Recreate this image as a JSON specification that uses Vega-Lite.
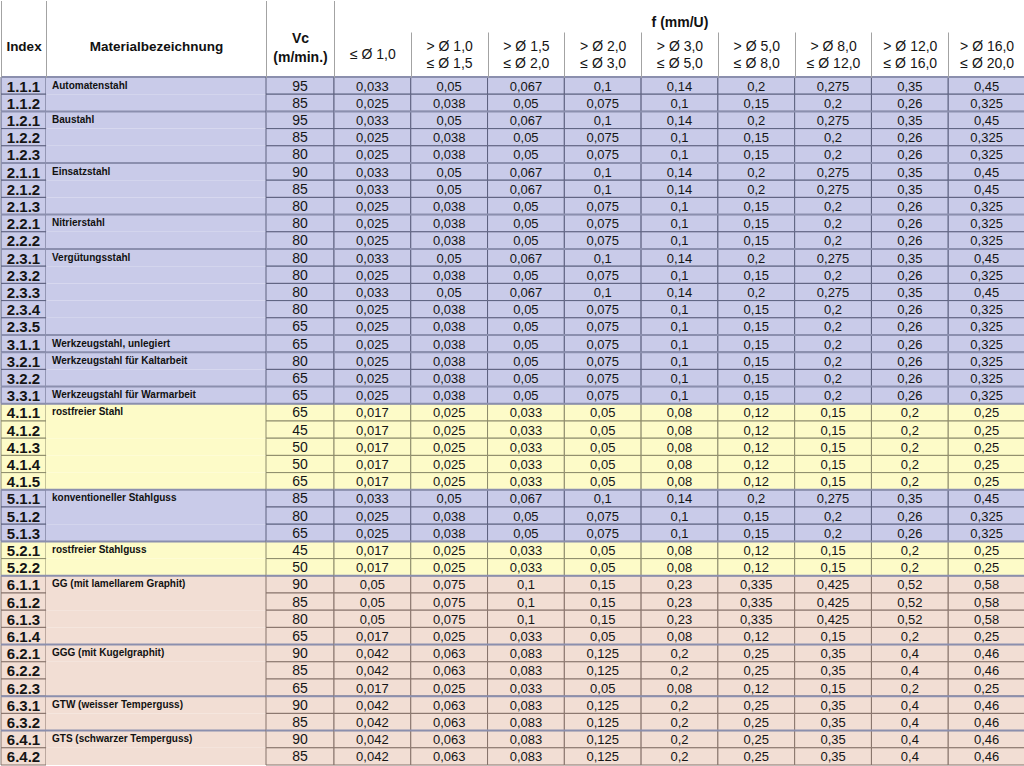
{
  "$schema": "https://vega.github.io/schema/vega-lite/v6.json",
  "padding": 0,
  "spacing": 0,
  "bounds": "flush",
  "background": "white",
  "config": {
    "view": {"stroke": null},
    "locale": {"number": {"decimal": ",", "thousands": ".", "grouping": [3], "currency": ["", " €"]}},
    "font": "Liberation Sans"
  },
  "datasets": {
    "tabelle": [
      {"idx": "1.1.1", "werkstoff": "Automatenstahl", "iso": "P", "vc": 95, "d1": 0.033, "d2": 0.05, "d3": 0.067, "d4": 0.1, "d5": 0.14, "d6": 0.2, "d7": 0.275, "d8": 0.35, "d9": 0.45},
      {"idx": "1.1.2", "werkstoff": "", "iso": "P", "vc": 85, "d1": 0.025, "d2": 0.038, "d3": 0.05, "d4": 0.075, "d5": 0.1, "d6": 0.15, "d7": 0.2, "d8": 0.26, "d9": 0.325},
      {"idx": "1.2.1", "werkstoff": "Baustahl", "iso": "P", "vc": 95, "d1": 0.033, "d2": 0.05, "d3": 0.067, "d4": 0.1, "d5": 0.14, "d6": 0.2, "d7": 0.275, "d8": 0.35, "d9": 0.45},
      {"idx": "1.2.2", "werkstoff": "", "iso": "P", "vc": 85, "d1": 0.025, "d2": 0.038, "d3": 0.05, "d4": 0.075, "d5": 0.1, "d6": 0.15, "d7": 0.2, "d8": 0.26, "d9": 0.325},
      {"idx": "1.2.3", "werkstoff": "", "iso": "P", "vc": 80, "d1": 0.025, "d2": 0.038, "d3": 0.05, "d4": 0.075, "d5": 0.1, "d6": 0.15, "d7": 0.2, "d8": 0.26, "d9": 0.325},
      {"idx": "2.1.1", "werkstoff": "Einsatzstahl", "iso": "P", "vc": 90, "d1": 0.033, "d2": 0.05, "d3": 0.067, "d4": 0.1, "d5": 0.14, "d6": 0.2, "d7": 0.275, "d8": 0.35, "d9": 0.45},
      {"idx": "2.1.2", "werkstoff": "", "iso": "P", "vc": 85, "d1": 0.033, "d2": 0.05, "d3": 0.067, "d4": 0.1, "d5": 0.14, "d6": 0.2, "d7": 0.275, "d8": 0.35, "d9": 0.45},
      {"idx": "2.1.3", "werkstoff": "", "iso": "P", "vc": 80, "d1": 0.025, "d2": 0.038, "d3": 0.05, "d4": 0.075, "d5": 0.1, "d6": 0.15, "d7": 0.2, "d8": 0.26, "d9": 0.325},
      {"idx": "2.2.1", "werkstoff": "Nitrierstahl", "iso": "P", "vc": 80, "d1": 0.025, "d2": 0.038, "d3": 0.05, "d4": 0.075, "d5": 0.1, "d6": 0.15, "d7": 0.2, "d8": 0.26, "d9": 0.325},
      {"idx": "2.2.2", "werkstoff": "", "iso": "P", "vc": 80, "d1": 0.025, "d2": 0.038, "d3": 0.05, "d4": 0.075, "d5": 0.1, "d6": 0.15, "d7": 0.2, "d8": 0.26, "d9": 0.325},
      {"idx": "2.3.1", "werkstoff": "Vergütungsstahl", "iso": "P", "vc": 80, "d1": 0.033, "d2": 0.05, "d3": 0.067, "d4": 0.1, "d5": 0.14, "d6": 0.2, "d7": 0.275, "d8": 0.35, "d9": 0.45},
      {"idx": "2.3.2", "werkstoff": "", "iso": "P", "vc": 80, "d1": 0.025, "d2": 0.038, "d3": 0.05, "d4": 0.075, "d5": 0.1, "d6": 0.15, "d7": 0.2, "d8": 0.26, "d9": 0.325},
      {"idx": "2.3.3", "werkstoff": "", "iso": "P", "vc": 80, "d1": 0.033, "d2": 0.05, "d3": 0.067, "d4": 0.1, "d5": 0.14, "d6": 0.2, "d7": 0.275, "d8": 0.35, "d9": 0.45},
      {"idx": "2.3.4", "werkstoff": "", "iso": "P", "vc": 80, "d1": 0.025, "d2": 0.038, "d3": 0.05, "d4": 0.075, "d5": 0.1, "d6": 0.15, "d7": 0.2, "d8": 0.26, "d9": 0.325},
      {"idx": "2.3.5", "werkstoff": "", "iso": "P", "vc": 65, "d1": 0.025, "d2": 0.038, "d3": 0.05, "d4": 0.075, "d5": 0.1, "d6": 0.15, "d7": 0.2, "d8": 0.26, "d9": 0.325},
      {"idx": "3.1.1", "werkstoff": "Werkzeugstahl, unlegiert", "iso": "P", "vc": 65, "d1": 0.025, "d2": 0.038, "d3": 0.05, "d4": 0.075, "d5": 0.1, "d6": 0.15, "d7": 0.2, "d8": 0.26, "d9": 0.325},
      {"idx": "3.2.1", "werkstoff": "Werkzeugstahl für Kaltarbeit", "iso": "P", "vc": 80, "d1": 0.025, "d2": 0.038, "d3": 0.05, "d4": 0.075, "d5": 0.1, "d6": 0.15, "d7": 0.2, "d8": 0.26, "d9": 0.325},
      {"idx": "3.2.2", "werkstoff": "", "iso": "P", "vc": 65, "d1": 0.025, "d2": 0.038, "d3": 0.05, "d4": 0.075, "d5": 0.1, "d6": 0.15, "d7": 0.2, "d8": 0.26, "d9": 0.325},
      {"idx": "3.3.1", "werkstoff": "Werkzeugstahl für Warmarbeit", "iso": "P", "vc": 65, "d1": 0.025, "d2": 0.038, "d3": 0.05, "d4": 0.075, "d5": 0.1, "d6": 0.15, "d7": 0.2, "d8": 0.26, "d9": 0.325},
      {"idx": "4.1.1", "werkstoff": "rostfreier Stahl", "iso": "M", "vc": 65, "d1": 0.017, "d2": 0.025, "d3": 0.033, "d4": 0.05, "d5": 0.08, "d6": 0.12, "d7": 0.15, "d8": 0.2, "d9": 0.25},
      {"idx": "4.1.2", "werkstoff": "", "iso": "M", "vc": 45, "d1": 0.017, "d2": 0.025, "d3": 0.033, "d4": 0.05, "d5": 0.08, "d6": 0.12, "d7": 0.15, "d8": 0.2, "d9": 0.25},
      {"idx": "4.1.3", "werkstoff": "", "iso": "M", "vc": 50, "d1": 0.017, "d2": 0.025, "d3": 0.033, "d4": 0.05, "d5": 0.08, "d6": 0.12, "d7": 0.15, "d8": 0.2, "d9": 0.25},
      {"idx": "4.1.4", "werkstoff": "", "iso": "M", "vc": 50, "d1": 0.017, "d2": 0.025, "d3": 0.033, "d4": 0.05, "d5": 0.08, "d6": 0.12, "d7": 0.15, "d8": 0.2, "d9": 0.25},
      {"idx": "4.1.5", "werkstoff": "", "iso": "M", "vc": 65, "d1": 0.017, "d2": 0.025, "d3": 0.033, "d4": 0.05, "d5": 0.08, "d6": 0.12, "d7": 0.15, "d8": 0.2, "d9": 0.25},
      {"idx": "5.1.1", "werkstoff": "konventioneller Stahlguss", "iso": "P", "vc": 85, "d1": 0.033, "d2": 0.05, "d3": 0.067, "d4": 0.1, "d5": 0.14, "d6": 0.2, "d7": 0.275, "d8": 0.35, "d9": 0.45},
      {"idx": "5.1.2", "werkstoff": "", "iso": "P", "vc": 80, "d1": 0.025, "d2": 0.038, "d3": 0.05, "d4": 0.075, "d5": 0.1, "d6": 0.15, "d7": 0.2, "d8": 0.26, "d9": 0.325},
      {"idx": "5.1.3", "werkstoff": "", "iso": "P", "vc": 65, "d1": 0.025, "d2": 0.038, "d3": 0.05, "d4": 0.075, "d5": 0.1, "d6": 0.15, "d7": 0.2, "d8": 0.26, "d9": 0.325},
      {"idx": "5.2.1", "werkstoff": "rostfreier Stahlguss", "iso": "M", "vc": 45, "d1": 0.017, "d2": 0.025, "d3": 0.033, "d4": 0.05, "d5": 0.08, "d6": 0.12, "d7": 0.15, "d8": 0.2, "d9": 0.25},
      {"idx": "5.2.2", "werkstoff": "", "iso": "M", "vc": 50, "d1": 0.017, "d2": 0.025, "d3": 0.033, "d4": 0.05, "d5": 0.08, "d6": 0.12, "d7": 0.15, "d8": 0.2, "d9": 0.25},
      {"idx": "6.1.1", "werkstoff": "GG (mit lamellarem Graphit)", "iso": "K", "vc": 90, "d1": 0.05, "d2": 0.075, "d3": 0.1, "d4": 0.15, "d5": 0.23, "d6": 0.335, "d7": 0.425, "d8": 0.52, "d9": 0.58},
      {"idx": "6.1.2", "werkstoff": "", "iso": "K", "vc": 85, "d1": 0.05, "d2": 0.075, "d3": 0.1, "d4": 0.15, "d5": 0.23, "d6": 0.335, "d7": 0.425, "d8": 0.52, "d9": 0.58},
      {"idx": "6.1.3", "werkstoff": "", "iso": "K", "vc": 80, "d1": 0.05, "d2": 0.075, "d3": 0.1, "d4": 0.15, "d5": 0.23, "d6": 0.335, "d7": 0.425, "d8": 0.52, "d9": 0.58},
      {"idx": "6.1.4", "werkstoff": "", "iso": "K", "vc": 65, "d1": 0.017, "d2": 0.025, "d3": 0.033, "d4": 0.05, "d5": 0.08, "d6": 0.12, "d7": 0.15, "d8": 0.2, "d9": 0.25},
      {"idx": "6.2.1", "werkstoff": "GGG (mit Kugelgraphit)", "iso": "K", "vc": 90, "d1": 0.042, "d2": 0.063, "d3": 0.083, "d4": 0.125, "d5": 0.2, "d6": 0.25, "d7": 0.35, "d8": 0.4, "d9": 0.46},
      {"idx": "6.2.2", "werkstoff": "", "iso": "K", "vc": 85, "d1": 0.042, "d2": 0.063, "d3": 0.083, "d4": 0.125, "d5": 0.2, "d6": 0.25, "d7": 0.35, "d8": 0.4, "d9": 0.46},
      {"idx": "6.2.3", "werkstoff": "", "iso": "K", "vc": 65, "d1": 0.017, "d2": 0.025, "d3": 0.033, "d4": 0.05, "d5": 0.08, "d6": 0.12, "d7": 0.15, "d8": 0.2, "d9": 0.25},
      {"idx": "6.3.1", "werkstoff": "GTW (weisser Temperguss)", "iso": "K", "vc": 90, "d1": 0.042, "d2": 0.063, "d3": 0.083, "d4": 0.125, "d5": 0.2, "d6": 0.25, "d7": 0.35, "d8": 0.4, "d9": 0.46},
      {"idx": "6.3.2", "werkstoff": "", "iso": "K", "vc": 85, "d1": 0.042, "d2": 0.063, "d3": 0.083, "d4": 0.125, "d5": 0.2, "d6": 0.25, "d7": 0.35, "d8": 0.4, "d9": 0.46},
      {"idx": "6.4.1", "werkstoff": "GTS (schwarzer Temperguss)", "iso": "K", "vc": 90, "d1": 0.042, "d2": 0.063, "d3": 0.083, "d4": 0.125, "d5": 0.2, "d6": 0.25, "d7": 0.35, "d8": 0.4, "d9": 0.46},
      {"idx": "6.4.2", "werkstoff": "", "iso": "K", "vc": 85, "d1": 0.042, "d2": 0.063, "d3": 0.083, "d4": 0.125, "d5": 0.2, "d6": 0.25, "d7": 0.35, "d8": 0.4, "d9": 0.46}
    ],
    "spalten": [
      {"key": "d1", "spalte": "≤ Ø 1,0"},
      {"key": "d2", "spalte": "> Ø 1,0|≤ Ø 1,5"},
      {"key": "d3", "spalte": "> Ø 1,5|≤ Ø 2,0"},
      {"key": "d4", "spalte": "> Ø 2,0|≤ Ø 3,0"},
      {"key": "d5", "spalte": "> Ø 3,0|≤ Ø 5,0"},
      {"key": "d6", "spalte": "> Ø 5,0|≤ Ø 8,0"},
      {"key": "d7", "spalte": "> Ø 8,0|≤ Ø 12,0"},
      {"key": "d8", "spalte": "> Ø 12,0|≤ Ø 16,0"},
      {"key": "d9", "spalte": "> Ø 16,0|≤ Ø 20,0"}
    ]
  },
  "data": {"name": "tabelle"},
  "hconcat": [
    {
      "width": 45,
      "height": 688,
      "layer": [
        {
          "mark": {"type": "rect", "strokeWidth": 1},
          "encoding": {
            "x": {"datum": "Index", "type": "nominal", "scale": {"paddingInner": 0, "paddingOuter": 0},
              "axis": {"orient": "top", "domain": false, "grid": false, "labels": false, "tickBand": "extent", "tickSize": 76.5, "tickColor": "#a3a3a3", "tickWidth": 1, "title": "Index", "titleFont": "Liberation Sans", "titleFontSize": 13.5, "titleFontWeight": "bold", "titleColor": "#111111", "titleY": -31, "titleBaseline": "middle"}},
            "y": {"field": "idx", "type": "ordinal", "axis": null, "scale": {"paddingInner": 0, "paddingOuter": 0}},
            "fill": {"field": "iso", "type": "nominal", "legend": null, "scale": {"domain": ["P", "M", "K"], "range": ["#c9cbe9", "#fdfbc8", "#f2ded4"]}},
            "stroke": {"field": "iso", "type": "nominal", "legend": null, "scale": {"domain": ["P", "M", "K"], "range": ["#5c607e", "#8c8a6a", "#86726a"]}}
          }
        },
        {
          "mark": {"type": "text", "fontWeight": "bold", "fontSize": 15, "color": "#151515", "align": "center", "baseline": "middle", "dy": 1},
          "encoding": {
            "y": {"field": "idx", "type": "ordinal"},
            "text": {"field": "idx"}
          }
        },
        {
          "transform": [{"filter": "datum.werkstoff != ''"}],
          "mark": {"type": "rule", "strokeWidth": 2, "color": "#8b8fae"},
          "encoding": {"y": {"field": "idx", "type": "ordinal", "bandPosition": 0}}
        }
      ]
    },
    {
      "width": 220,
      "height": 688,
      "layer": [
        {
          "mark": {"type": "rect", "strokeWidth": 0},
          "encoding": {
            "x": {"datum": "Materialbezeichnung", "type": "nominal", "scale": {"paddingInner": 0, "paddingOuter": 0},
              "axis": {"orient": "top", "domain": false, "grid": false, "labels": false, "tickBand": "extent", "tickSize": 76.5, "tickColor": "#a3a3a3", "tickWidth": 1, "title": "Materialbezeichnung", "titleFont": "Liberation Sans", "titleFontSize": 13.5, "titleFontWeight": "bold", "titleColor": "#111111", "titleY": -31, "titleBaseline": "middle"}},
            "y": {"field": "idx", "type": "ordinal", "axis": null, "scale": {"paddingInner": 0, "paddingOuter": 0}},
            "fill": {"field": "iso", "type": "nominal", "legend": null, "scale": {"domain": ["P", "M", "K"], "range": ["#c9cbe9", "#fdfbc8", "#f2ded4"]}}
          }
        },
        {
          "transform": [{"filter": "datum.werkstoff != ''"}],
          "mark": {"type": "text", "fontWeight": "bold", "fontSize": 10, "color": "#111111", "align": "left", "baseline": "middle", "dx": 6},
          "encoding": {
            "x": {"datum": "Materialbezeichnung", "type": "nominal", "bandPosition": 0},
            "y": {"field": "idx", "type": "ordinal"},
            "text": {"field": "werkstoff"}
          }
        },
        {
          "transform": [{"filter": "datum.werkstoff != ''"}],
          "mark": {"type": "rule", "strokeWidth": 2, "color": "#8b8fae"},
          "encoding": {"y": {"field": "idx", "type": "ordinal", "bandPosition": 0}}
        }
      ]
    },
    {
      "width": 68,
      "height": 688,
      "layer": [
        {
          "mark": {"type": "rect", "strokeWidth": 1},
          "encoding": {
            "x": {"datum": "Vc", "type": "nominal", "scale": {"paddingInner": 0, "paddingOuter": 0},
              "axis": {"orient": "top", "domain": false, "grid": false, "labels": false, "tickBand": "extent", "tickSize": 76.5, "tickColor": "#a3a3a3", "tickWidth": 1, "title": ["Vc", "(m/min.)"], "titleFont": "Liberation Sans", "titleFontSize": 14, "titleFontWeight": "bold", "titleColor": "#111111", "titleY": -39, "titleBaseline": "middle", "titleLineHeight": 19}},
            "y": {"field": "idx", "type": "ordinal", "axis": null, "scale": {"paddingInner": 0, "paddingOuter": 0}},
            "fill": {"field": "iso", "type": "nominal", "legend": null, "scale": {"domain": ["P", "M", "K"], "range": ["#c9cbe9", "#fdfbc8", "#f2ded4"]}},
            "stroke": {"field": "iso", "type": "nominal", "legend": null, "scale": {"domain": ["P", "M", "K"], "range": ["#5c607e", "#8c8a6a", "#86726a"]}}
          }
        },
        {
          "mark": {"type": "text", "fontSize": 14, "color": "#151515", "align": "center", "baseline": "middle", "dy": 1},
          "encoding": {
            "y": {"field": "idx", "type": "ordinal"},
            "text": {"field": "vc", "type": "quantitative"}
          }
        },
        {
          "transform": [{"filter": "datum.werkstoff != ''"}],
          "mark": {"type": "rule", "strokeWidth": 2, "color": "#8b8fae"},
          "encoding": {"y": {"field": "idx", "type": "ordinal", "bandPosition": 0}}
        }
      ]
    },
    {
      "width": 691,
      "height": 688,
      "transform": [
        {"fold": ["d1", "d2", "d3", "d4", "d5", "d6", "d7", "d8", "d9"], "as": ["key", "f"]},
        {"lookup": "key", "from": {"data": {"name": "spalten"}, "key": "key", "fields": ["spalte"]}}
      ],
      "layer": [
        {
          "mark": {"type": "rect", "strokeWidth": 1},
          "encoding": {
            "x": {"field": "spalte", "type": "nominal",
              "sort": ["≤ Ø 1,0", "> Ø 1,0|≤ Ø 1,5", "> Ø 1,5|≤ Ø 2,0", "> Ø 2,0|≤ Ø 3,0", "> Ø 3,0|≤ Ø 5,0", "> Ø 5,0|≤ Ø 8,0", "> Ø 8,0|≤ Ø 12,0", "> Ø 12,0|≤ Ø 16,0", "> Ø 16,0|≤ Ø 20,0"],
              "scale": {"paddingInner": 0, "paddingOuter": 0},
              "axis": {"orient": "top", "domain": false, "grid": false, "tickBand": "extent", "tickSize": 45, "tickColor": "#a3a3a3", "tickWidth": 1, "labelExpr": "split(datum.label, '|')", "labelPadding": {"condition": {"test": "indexof(datum.label, '|') < 0", "value": -22}, "value": -14}, "labelBaseline": "middle", "labelAngle": 0, "labelFont": "Liberation Sans", "labelFontSize": 14, "labelColor": "#151515", "labelLineHeight": 17, "labelOverlap": false, "labelFlush": false, "labelBound": false, "title": "f (mm/U)", "titleFont": "Liberation Sans", "titleFontSize": 14, "titleFontWeight": "bold", "titleColor": "#111111", "titleY": -55, "titleBaseline": "middle"}},
            "y": {"field": "idx", "type": "ordinal", "axis": null, "scale": {"paddingInner": 0, "paddingOuter": 0}},
            "fill": {"field": "iso", "type": "nominal", "legend": null, "scale": {"domain": ["P", "M", "K"], "range": ["#c9cbe9", "#fdfbc8", "#f2ded4"]}},
            "stroke": {"field": "iso", "type": "nominal", "legend": null, "scale": {"domain": ["P", "M", "K"], "range": ["#5c607e", "#8c8a6a", "#86726a"]}}
          }
        },
        {
          "mark": {"type": "text", "fontSize": 13, "color": "#151515", "align": "center", "baseline": "middle", "dy": 1},
          "encoding": {
            "x": {"field": "spalte", "type": "nominal", "sort": ["≤ Ø 1,0", "> Ø 1,0|≤ Ø 1,5", "> Ø 1,5|≤ Ø 2,0", "> Ø 2,0|≤ Ø 3,0", "> Ø 3,0|≤ Ø 5,0", "> Ø 5,0|≤ Ø 8,0", "> Ø 8,0|≤ Ø 12,0", "> Ø 12,0|≤ Ø 16,0", "> Ø 16,0|≤ Ø 20,0"]},
            "y": {"field": "idx", "type": "ordinal"},
            "text": {"field": "f", "type": "quantitative", "format": "~r"}
          }
        },
        {
          "transform": [{"filter": "datum.werkstoff != '' && datum.key == 'd1'"}],
          "mark": {"type": "rule", "strokeWidth": 2, "color": "#8b8fae"},
          "encoding": {"y": {"field": "idx", "type": "ordinal", "bandPosition": 0}}
        }
      ]
    }
  ]
}
